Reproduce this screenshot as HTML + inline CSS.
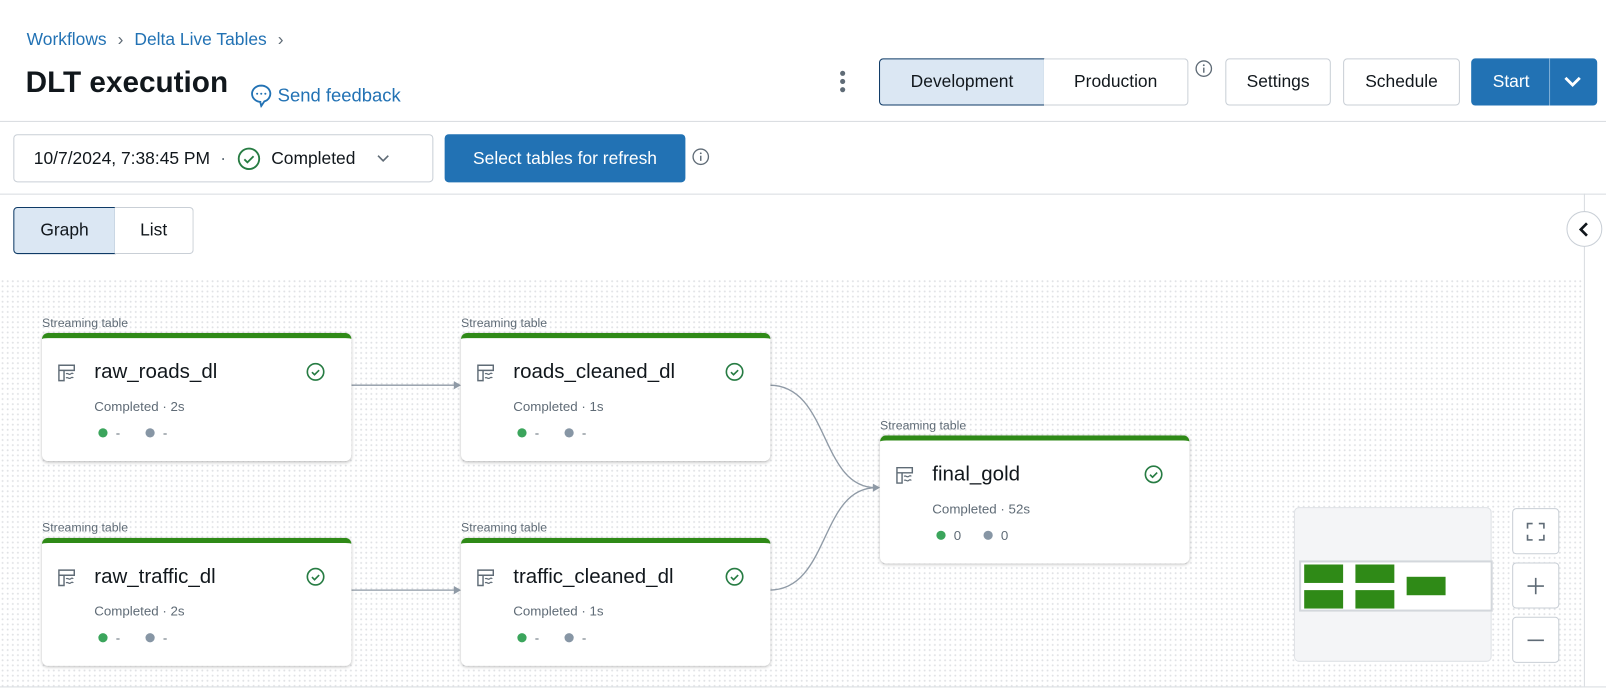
<!DOCTYPE html>
<html><head><meta charset="utf-8"><style>
*{box-sizing:border-box;margin:0;padding:0}
html,body{width:1606px;height:697px;overflow:hidden;background:#fff}
body{font-family:"Liberation Sans",sans-serif;color:#11171c;position:relative}
#w{position:absolute;left:0;top:0;width:1568px;height:681px;transform:scale(1.0245);transform-origin:0 0}
.a{position:absolute}
.btn{position:absolute;border:1px solid #c9cfd6;border-radius:4px;background:#fff;font-size:17px;display:flex;align-items:center;justify-content:center;color:#11171c}
.dots{position:absolute;left:0;top:272px;width:1546px;height:398px;background-color:#fff;background-image:radial-gradient(#e0e2e5 0.8px,transparent 1.1px);background-size:5px 5px}
.lbl{position:absolute;font-size:12px;color:#5f6b76}
.card{position:absolute;width:302px;height:125px;background:#fff;border-radius:6px;border-top:5px solid #2f8a17;box-shadow:0 1px 3px rgba(0,0,0,.25)}
.card .nm{position:absolute;left:51px;top:22px;font-size:20px;color:#11171c}
.card .st{position:absolute;left:51px;top:59px;font-size:13px;color:#5f6b76}
.card .d1,.card .d2{position:absolute;top:88px;width:9px;height:9px;border-radius:50%}
.card .d1{left:55px;background:#3ba55c}.card .d2{left:101px;background:#8796a5}
.card .t1,.card .t2{position:absolute;top:85px;font-size:13px;color:#5f6b76}
.card .t1{left:72px}.card .t2{left:118px}
.card svg.ic{position:absolute;left:15px;top:25px}
.card svg.ck{position:absolute;left:257px;top:23px}
</style></head><body><div id="w">
<div class="a" style="left:26px;top:29px;font-size:17px;color:#2272b4">Workflows <span style="color:#5f6b76;margin:0 6px">›</span> Delta Live Tables <span style="color:#5f6b76;margin-left:6px">›</span></div>
<div class="a" style="left:25px;top:65px;font-size:29px;font-weight:bold;color:#11171c">DLT execution</div>
<svg class="a" style="left:243px;top:81px" width="24" height="24" viewBox="0 0 24 24"><path d="M12 2.5a9 8 0 1 0 0 16h-1l1 4 3-4.5A9 8 0 0 0 12 2.5z" fill="none" stroke="#2272b4" stroke-width="1.8"/><circle cx="8" cy="10.5" r="1" fill="#2272b4"/><circle cx="12" cy="10.5" r="1" fill="#2272b4"/><circle cx="16" cy="10.5" r="1" fill="#2272b4"/></svg>
<div class="a" style="left:271px;top:83px;font-size:18px;color:#2272b4">Send feedback</div>
<div class="a" style="left:820px;top:69px;width:5px;height:5px;border-radius:50%;background:#5f6b76;box-shadow:0 8px 0 #5f6b76,0 16px 0 #5f6b76"></div>
<div class="btn" style="left:858px;top:57px;width:162px;height:46px;background:#dbe7f3;border-color:#0e3a66;border-radius:4px 0 0 4px">Development</div>
<div class="btn" style="left:1019px;top:57px;width:141px;height:46px;border-left:none;border-radius:0 4px 4px 0">Production</div>
<svg class="a" style="left:1166px;top:58px" width="18" height="18"><circle cx="9" cy="9" r="7.5" fill="none" stroke="#5f6b76" stroke-width="1.3"/><rect x="8.3" y="8" width="1.4" height="5" fill="#5f6b76"/><circle cx="9" cy="5.6" r=".9" fill="#5f6b76"/></svg>
<div class="btn" style="left:1196px;top:57px;width:103px;height:46px">Settings</div>
<div class="btn" style="left:1311px;top:57px;width:114px;height:46px">Schedule</div>
<div class="btn" style="left:1436px;top:57px;width:123px;height:46px;background:#2272b4;border-color:#2272b4;color:#fff;justify-content:flex-start;padding-left:20px">Start</div>
<div class="a" style="left:1512px;top:57px;width:1px;height:46px;background:#7fb0d8"></div>
<svg class="a" style="left:1524px;top:73px" width="22" height="14"><path d="M4 3l7 7 7-7" fill="none" stroke="#fff" stroke-width="2.8"/></svg>
<div class="a" style="left:0;top:118px;width:1606px;height:1px;background:#d8dce0"></div>
<div class="btn" style="left:13px;top:131px;width:410px;height:47px;justify-content:flex-start;padding-left:19px;font-size:17px">10/7/2024, 7:38:45 PM <span style="margin:0 10px;color:#5f6b76">·</span><svg width="24" height="24" style="margin-right:10px"><circle cx="12" cy="12" r="10" fill="none" stroke="#277c43" stroke-width="1.8"/><path d="M7.5 12.5l3 3 6-6" fill="none" stroke="#277c43" stroke-width="1.8"/></svg>Completed<svg width="14" height="10" style="margin-left:20px"><path d="M2 2l5 5 5-5" fill="none" stroke="#5f6b76" stroke-width="1.6"/></svg></div>
<div class="btn" style="left:434px;top:131px;width:235px;height:47px;background:#2272b4;border-color:#2272b4;color:#fff">Select tables for refresh</div>
<svg class="a" style="left:675px;top:144px" width="18" height="18"><circle cx="9" cy="9" r="7.5" fill="none" stroke="#5f6b76" stroke-width="1.3"/><rect x="8.3" y="8" width="1.4" height="5" fill="#5f6b76"/><circle cx="9" cy="5.6" r=".9" fill="#5f6b76"/></svg>
<div class="a" style="left:0;top:189px;width:1606px;height:1px;background:#d8dce0"></div>
<div class="btn" style="left:13px;top:202px;width:100px;height:46px;background:#dbe7f3;border-color:#0e3a66;border-radius:4px 0 0 4px">Graph</div>
<div class="btn" style="left:112px;top:202px;width:77px;height:46px;border-left:none;border-radius:0 4px 4px 0">List</div>
<div class="dots"></div>
<div class="a" style="left:1546px;top:189px;width:1px;height:481px;background:#d8dce0"></div>
<div class="a" style="left:0;top:670px;width:1606px;height:1px;background:#d8dce0"></div>
<div class="a" style="left:1529px;top:206px;width:35px;height:35px;border-radius:50%;border:1px solid #c9cfd6;background:#fff"></div>
<svg class="a" style="left:1538px;top:215px" width="18" height="18"><path d="M11 3l-6 6 6 6" fill="none" stroke="#11171c" stroke-width="2.6"/></svg>

<svg class="a" style="left:0;top:0" width="1606" height="697">
<g fill="none" stroke="#8f9aa6" stroke-width="1.3">
<path d="M343 376H446"/><path d="M343 576H446"/>
<path d="M751 376C810 376 800 476 855 476"/><path d="M751 576C810 576 800 476 855 476"/>
</g>
<g fill="#8f9aa6"><path d="M450 376l-7-4v8z"/><path d="M450 576l-7-4v8z"/><path d="M859 476l-7-4v8z"/></g>
</svg>

<div class="lbl" style="left:41px;top:308px">Streaming table</div>
<div class="lbl" style="left:450px;top:308px">Streaming table</div>
<div class="lbl" style="left:41px;top:508px">Streaming table</div>
<div class="lbl" style="left:450px;top:508px">Streaming table</div>
<div class="lbl" style="left:859px;top:408px">Streaming table</div>

<div class="card" style="left:41px;top:325px"><svg class="ic" width="18" height="18"><path d="M1.5 1.5h15v5h-15zM1.5 6.5v10h5v-10" fill="none" stroke="#5f6b76" stroke-width="1.4"/><path d="M8.5 10c1.5-1.5 3 1.5 4.5 0s2.5 0 2.5 0M8.5 14c1.5-1.5 3 1.5 4.5 0s2.5 0 2.5 0" fill="none" stroke="#5f6b76" stroke-width="1.2"/></svg><div class="nm">raw_roads_dl</div><svg class="ck" width="20" height="20"><circle cx="10" cy="10" r="8" fill="none" stroke="#277c43" stroke-width="1.6"/><path d="M6.5 10.3l2.5 2.5 4.5-4.5" fill="none" stroke="#277c43" stroke-width="1.6"/></svg><div class="st">Completed · 2s</div><div class="d1"></div><div class="t1">-</div><div class="d2"></div><div class="t2">-</div></div>

<div class="card" style="left:450px;top:325px"><svg class="ic" width="18" height="18"><path d="M1.5 1.5h15v5h-15zM1.5 6.5v10h5v-10" fill="none" stroke="#5f6b76" stroke-width="1.4"/><path d="M8.5 10c1.5-1.5 3 1.5 4.5 0s2.5 0 2.5 0M8.5 14c1.5-1.5 3 1.5 4.5 0s2.5 0 2.5 0" fill="none" stroke="#5f6b76" stroke-width="1.2"/></svg><div class="nm">roads_cleaned_dl</div><svg class="ck" width="20" height="20"><circle cx="10" cy="10" r="8" fill="none" stroke="#277c43" stroke-width="1.6"/><path d="M6.5 10.3l2.5 2.5 4.5-4.5" fill="none" stroke="#277c43" stroke-width="1.6"/></svg><div class="st">Completed · 1s</div><div class="d1"></div><div class="t1">-</div><div class="d2"></div><div class="t2">-</div></div>

<div class="card" style="left:41px;top:525px"><svg class="ic" width="18" height="18"><path d="M1.5 1.5h15v5h-15zM1.5 6.5v10h5v-10" fill="none" stroke="#5f6b76" stroke-width="1.4"/><path d="M8.5 10c1.5-1.5 3 1.5 4.5 0s2.5 0 2.5 0M8.5 14c1.5-1.5 3 1.5 4.5 0s2.5 0 2.5 0" fill="none" stroke="#5f6b76" stroke-width="1.2"/></svg><div class="nm">raw_traffic_dl</div><svg class="ck" width="20" height="20"><circle cx="10" cy="10" r="8" fill="none" stroke="#277c43" stroke-width="1.6"/><path d="M6.5 10.3l2.5 2.5 4.5-4.5" fill="none" stroke="#277c43" stroke-width="1.6"/></svg><div class="st">Completed · 2s</div><div class="d1"></div><div class="t1">-</div><div class="d2"></div><div class="t2">-</div></div>

<div class="card" style="left:450px;top:525px"><svg class="ic" width="18" height="18"><path d="M1.5 1.5h15v5h-15zM1.5 6.5v10h5v-10" fill="none" stroke="#5f6b76" stroke-width="1.4"/><path d="M8.5 10c1.5-1.5 3 1.5 4.5 0s2.5 0 2.5 0M8.5 14c1.5-1.5 3 1.5 4.5 0s2.5 0 2.5 0" fill="none" stroke="#5f6b76" stroke-width="1.2"/></svg><div class="nm">traffic_cleaned_dl</div><svg class="ck" width="20" height="20"><circle cx="10" cy="10" r="8" fill="none" stroke="#277c43" stroke-width="1.6"/><path d="M6.5 10.3l2.5 2.5 4.5-4.5" fill="none" stroke="#277c43" stroke-width="1.6"/></svg><div class="st">Completed · 1s</div><div class="d1"></div><div class="t1">-</div><div class="d2"></div><div class="t2">-</div></div>

<div class="card" style="left:859px;top:425px"><svg class="ic" width="18" height="18"><path d="M1.5 1.5h15v5h-15zM1.5 6.5v10h5v-10" fill="none" stroke="#5f6b76" stroke-width="1.4"/><path d="M8.5 10c1.5-1.5 3 1.5 4.5 0s2.5 0 2.5 0M8.5 14c1.5-1.5 3 1.5 4.5 0s2.5 0 2.5 0" fill="none" stroke="#5f6b76" stroke-width="1.2"/></svg><div class="nm">final_gold</div><svg class="ck" width="20" height="20"><circle cx="10" cy="10" r="8" fill="none" stroke="#277c43" stroke-width="1.6"/><path d="M6.5 10.3l2.5 2.5 4.5-4.5" fill="none" stroke="#277c43" stroke-width="1.6"/></svg><div class="st">Completed · 52s</div><div class="d1"></div><div class="t1">0</div><div class="d2"></div><div class="t2">0</div></div>

<div class="a" style="left:1263px;top:495px;width:193px;height:151px;background:#f4f5f7;border:1px solid #dfe2e6;border-radius:5px"></div>
<div class="a" style="left:1268px;top:547px;width:189px;height:50px;background:#fff;border:2px solid #d3d7dc"></div>
<div class="a" style="left:1273px;top:551px;width:38px;height:18px;background:#2f8a17"></div>
<div class="a" style="left:1273px;top:576px;width:38px;height:18px;background:#2f8a17"></div>
<div class="a" style="left:1323px;top:551px;width:38px;height:18px;background:#2f8a17"></div>
<div class="a" style="left:1323px;top:576px;width:38px;height:18px;background:#2f8a17"></div>
<div class="a" style="left:1373px;top:563px;width:38px;height:18px;background:#2f8a17"></div>

<div class="btn" style="left:1476px;top:496px;width:46px;height:45px"><svg width="18" height="18"><path d="M1 6V1h5M12 1h5v5M17 12v5h-5M6 17H1v-5" fill="none" stroke="#5f6b76" stroke-width="1.6"/></svg></div>
<div class="btn" style="left:1476px;top:549px;width:46px;height:45px"><svg width="20" height="20"><path d="M10 2v16M2 10h16" stroke="#5f6b76" stroke-width="1.6"/></svg></div>
<div class="btn" style="left:1476px;top:602px;width:46px;height:45px"><svg width="20" height="20"><path d="M2 10h16" stroke="#5f6b76" stroke-width="1.6"/></svg></div>
</div></body></html>
